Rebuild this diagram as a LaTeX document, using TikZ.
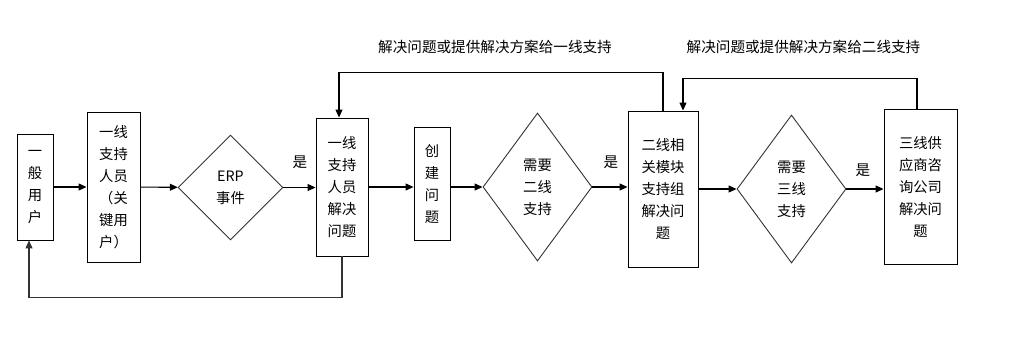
\documentclass[tikz,border=0pt]{standalone}
\usepackage{fontspec}
\setmainfont{Noto Sans CJK SC}
\usetikzlibrary{arrows.meta,shapes.geometric}
\tikzset{
  box/.style={draw=black,line width=0.9pt,align=center,inner sep=0pt,font=\fontsize{14.3}{22}\selectfont},
  dia/.style={draw=black!80,line width=0.9pt,shape=diamond,align=center,inner sep=0pt,font=\fontsize{14.3}{22}\selectfont},
  arr/.style={line width=1.1pt,-{Triangle[length=8pt,width=7pt]}},
  lbl/.style={font=\fontsize{14.6}{16}\selectfont,inner sep=0pt}
}
\begin{document}
\begin{tikzpicture}[x=1pt,y=-1pt]
\useasboundingbox (0,0) rectangle (1032,341);
\node[box,minimum width=36pt,minimum height=106pt] (b1) at (35,187) {一\\般\\用\\户};
\node[box,minimum width=53pt,minimum height=150pt] (b2) at (113.5,187) {一线\\支持\\人员\\（关\\键用\\户）};
\node[dia,minimum width=105pt,minimum height=105pt] (d1) at (230.5,187.5) {ERP\\事件};
\node[box,minimum width=52pt,minimum height=138pt] (b3) at (342,187) {一线\\支持\\人员\\解决\\问题};
\node[box,minimum width=36pt,minimum height=113pt] (b4) at (432,184) {创\\建\\问\\题};
\node[dia,minimum width=109pt,minimum height=148pt] (d2) at (537.5,187) {需要\\二线\\支持};
\node[box,minimum width=70pt,minimum height=156pt] (b5) at (663,189) {二线相\\关模块\\支持组\\解决问\\题};
\node[dia,minimum width=109pt,minimum height=148pt] (d3) at (791.5,189) {需要\\三线\\支持};
\node[box,minimum width=73pt,minimum height=155pt] (b6) at (920.5,187) {三线供\\应商咨\\询公司\\解决问\\题};

\node[lbl] (y1) at (300,162) {是};
\node[lbl] (y2) at (611,162) {是};
\node[lbl] (y3) at (863,170) {是};
\node[lbl] (t1) at (495,47) {解决问题或提供解决方案给一线支持};
\node[lbl] (t2) at (803.5,47) {解决问题或提供解决方案给二线支持};

\draw[arr] (b1) -- (b2);
\draw[arr] (b2) -- (d1);
\draw[arr] (d1) -- (d1 -| b3.west);
\draw[arr] (b3) -- (b3 -| b4.west);
\draw[arr] (b4.east |- d2) -- (d2);
\draw[arr] (d2) -- (d2 -| b5.west);
\draw[arr] (b5) -- (d3);
\draw[arr] (d3) -- (d3 -| b6.west);

\draw[arr,draw=black!80] (b3.south) -- ++(0,41) -| ([xshift=-6pt]b1.south);
\draw[arr] (b5.north) -- ++(0,-38) -| ([xshift=-3pt]b3.north);
\draw[arr] ([xshift=-3.5pt]b6.north) -- ++(0,-30.5) -| ([xshift=20pt]b5.north);
\end{tikzpicture}
\end{document}
